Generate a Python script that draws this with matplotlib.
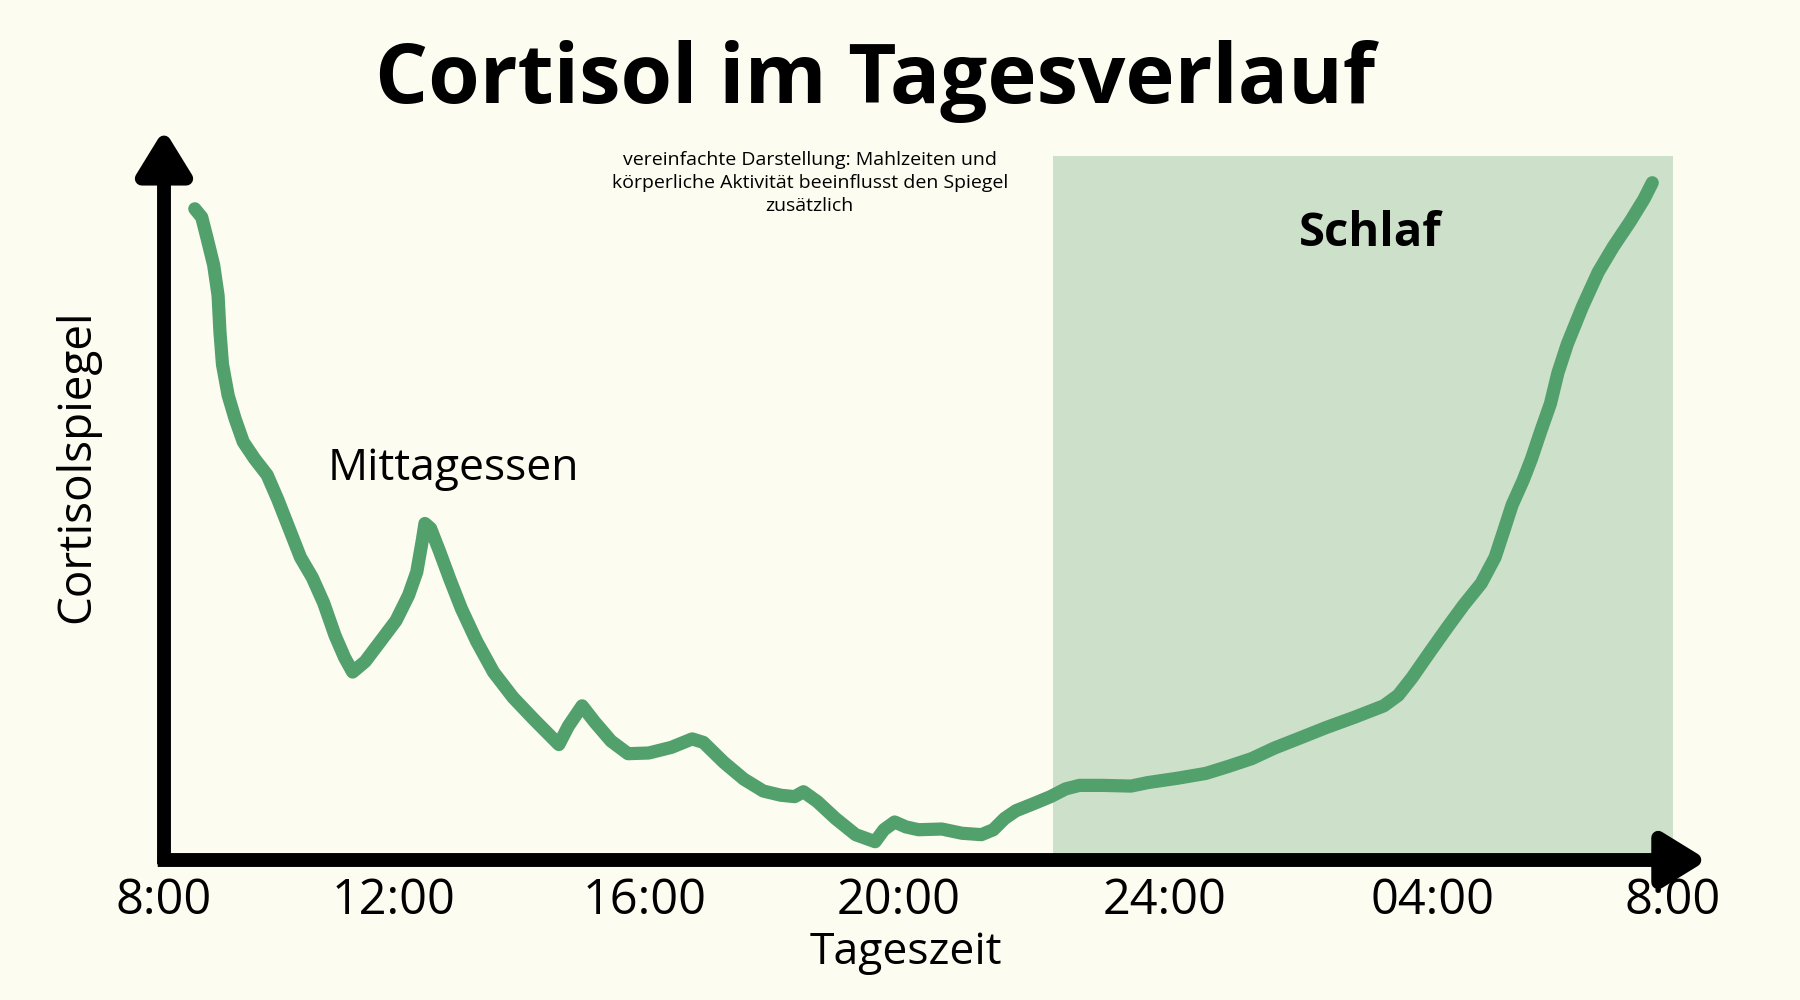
import matplotlib
matplotlib.use("Agg")
import matplotlib.pyplot as plt

# cortisol curve, hours after 8:00 and level (arbitrary units)
hours = [0.49, 0.60, 0.68, 0.79, 0.86, 0.89, 0.93, 1.02, 1.13, 1.26,
         1.44, 1.64, 1.81, 1.99, 2.17, 2.36, 2.54, 2.72, 2.87, 3.00,
         3.20, 3.42, 3.69, 3.89, 4.02, 4.11, 4.15, 4.24, 4.38, 4.55,
         4.73, 4.97, 5.24, 5.55, 5.88, 6.28, 6.43, 6.65, 6.85, 7.11,
         7.38, 7.71, 8.07, 8.40, 8.58, 8.90, 9.22, 9.53, 9.81, 10.03,
         10.17, 10.39, 10.68, 11.00, 11.31, 11.45, 11.62, 11.80, 12.00, 12.37,
         12.69, 13.00, 13.19, 13.37, 13.55, 13.83, 14.10, 14.34, 14.56, 14.92,
         15.38, 15.65, 16.11, 16.57, 16.93, 17.30, 17.66, 18.03, 18.48, 18.94,
         19.40, 19.63, 19.85, 20.13, 20.40, 20.67, 20.95, 21.17, 21.31, 21.44,
         21.62, 21.75, 21.90, 22.05, 22.17, 22.32, 22.56, 22.81, 23.05, 23.32,
         23.54, 23.67]
level = [92.5, 91.3, 88.5, 84.5, 80.2, 75.0, 70.4, 66.0, 62.7, 59.4,
         57.0, 54.7, 51.2, 47.1, 43.0, 40.1, 36.5, 31.9, 28.8, 26.7,
         28.2, 30.8, 34.0, 37.6, 40.9, 45.5, 47.8, 47.1, 43.9, 39.8,
         35.7, 31.1, 26.7, 23.1, 20.0, 16.4, 19.0, 21.9, 19.6, 16.9,
         15.1, 15.2, 16.0, 17.2, 16.7, 13.9, 11.5, 9.8, 9.2, 9.0,
         9.7, 8.3, 5.9, 3.6, 2.6, 4.3, 5.4, 4.7, 4.3, 4.4,
         3.8, 3.6, 4.3, 5.9, 7.0, 8.0, 9.0, 10.1, 10.6, 10.6,
         10.5, 11.0, 11.6, 12.3, 13.3, 14.4, 15.9, 17.2, 18.8, 20.3,
         21.9, 23.4, 25.9, 29.5, 32.9, 36.2, 39.3, 43.0, 46.8, 50.4,
         54.0, 57.0, 61.0, 64.8, 69.2, 73.3, 78.6, 83.5, 87.1, 90.7,
         93.9, 96.2]

tick_pos = [0, 3.65, 7.65, 11.69, 15.91, 20.18, 24]
tick_labels = ["8:00", "12:00", "16:00", "20:00", "24:00", "04:00", "8:00"]

sleep_start = 14.14
sleep_end = 24.0

bg = "#fdfcf0"
green = "#52a06c"
shade = "#cde0ca"

plt.rcParams["font.family"] = ["Open Sans", "DejaVu Sans"]

fig = plt.figure(figsize=(18, 10), dpi=100, facecolor=bg)
ax = fig.add_axes([164 / 1800, 140 / 1000, 1509 / 1800, 704 / 1000])
ax.set_facecolor(bg)
ax.set_xlim(0, 24)
ax.set_ylim(0, 100)
for s in ax.spines.values():
    s.set_visible(False)

# sleep phase
ax.fill_between([sleep_start, sleep_end], 0, 100, color=shade, lw=0, zorder=1)

# the curve
ax.plot(hours, level, color=green, lw=9.5, solid_capstyle="round",
        solid_joinstyle="round", zorder=3)

# axes with arrow heads
arrow = dict(arrowstyle="-|>,head_length=1.3,head_width=0.8", color="black",
             lw=10, joinstyle="round", capstyle="butt", shrinkA=0, shrinkB=0,
             mutation_scale=20)
ax.annotate("", xy=(0, 103.8), xytext=(0, -0.6), arrowprops=arrow,
            annotation_clip=False, zorder=4)
ax.annotate("", xy=(24.55, 0), xytext=(-0.1, 0), arrowprops=arrow,
            annotation_clip=False, zorder=4)

ax.set_xticks(tick_pos)
ax.set_xticklabels(tick_labels, fontsize=35)
ax.tick_params(axis="x", length=0, pad=12)
ax.set_yticks([])

ax.text(4.61, 54.0, "Mittagessen", fontsize=32, ha="center", va="baseline")
ax.text(19.18, 87.2, "Schlaf", fontsize=34, fontweight="bold",
        ha="center", va="baseline")
ax.text(10.27, 96.2,
        "vereinfachte Darstellung: Mahlzeiten und\n"
        "körperliche Aktivität beeinflusst den Spiegel\nzusätzlich",
        fontsize=14, ha="center", va="center", linespacing=1.35)

fig.text(875 / 1800, 1 - 103 / 1000, "Cortisol im Tagesverlauf",
         fontsize=60, fontweight="bold", ha="center", va="baseline")
fig.text(906 / 1800, 1 - 964 / 1000, "Tageszeit", fontsize=32,
         ha="center", va="baseline")
fig.text(77 / 1800, 1 - 466 / 1000, "Cortisolspiegel", fontsize=33,
         rotation=90, ha="center", va="center")

fig.savefig("out.png", dpi=100, facecolor=bg)
